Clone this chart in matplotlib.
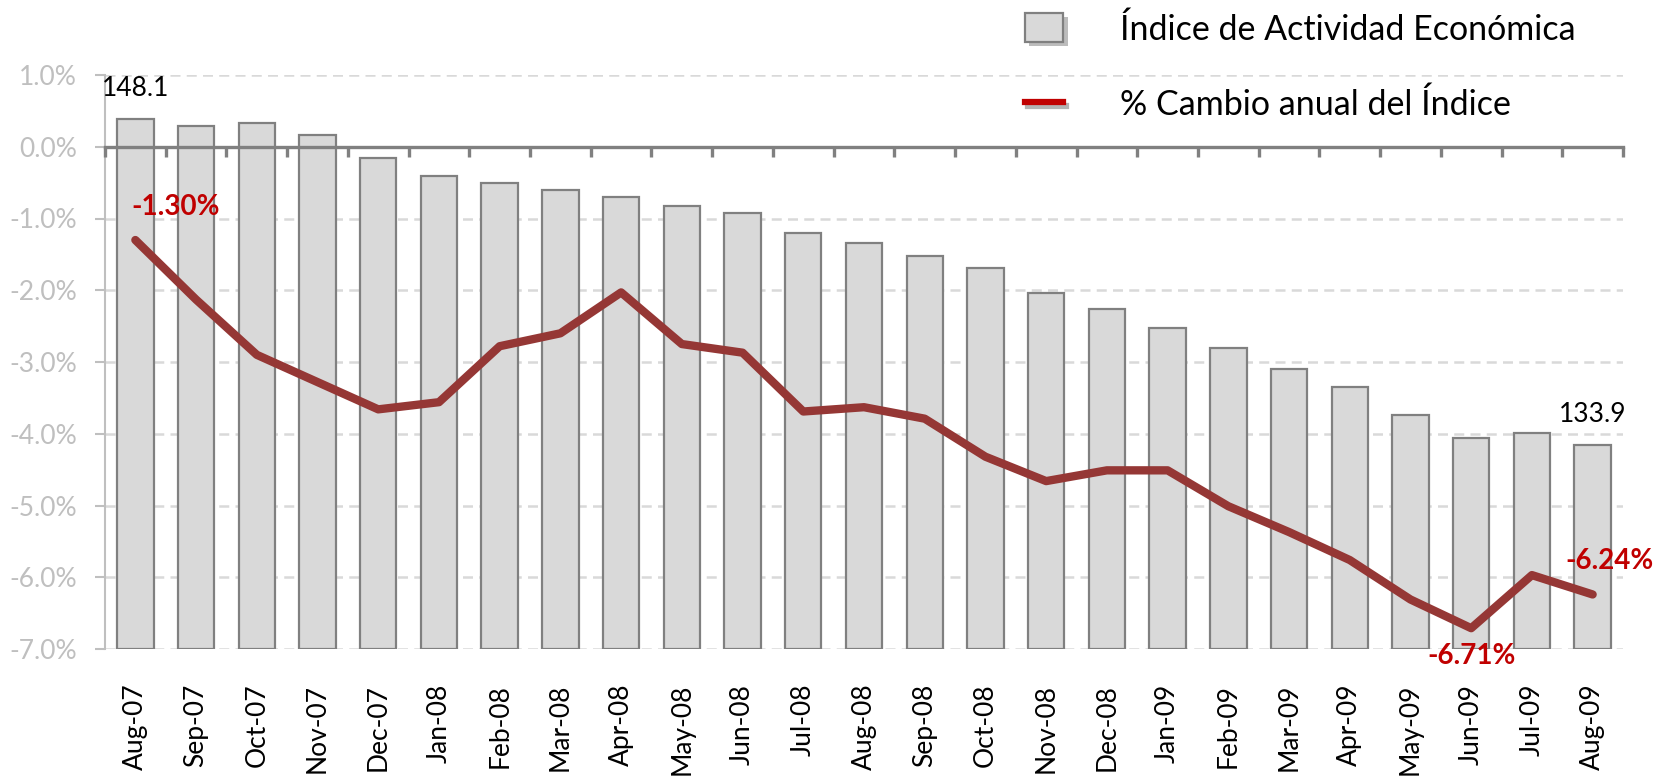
import numpy as np
import matplotlib
matplotlib.use("Agg")
import matplotlib.pyplot as plt
from matplotlib.patches import Patch
from matplotlib.lines import Line2D
from matplotlib.patheffects import SimplePatchShadow, SimpleLineShadow, Normal
from matplotlib.ticker import FuncFormatter

plt.rcParams['font.family'] = ['Lato', 'DejaVu Sans']

# ===================== 데이터 =====================
months = ['Aug-07', 'Sep-07', 'Oct-07', 'Nov-07', 'Dec-07', 'Jan-08', 'Feb-08',
          'Mar-08', 'Apr-08', 'May-08', 'Jun-08', 'Jul-08', 'Aug-08', 'Sep-08',
          'Oct-08', 'Nov-08', 'Dec-08', 'Jan-09', 'Feb-09', 'Mar-09', 'Apr-09',
          'May-09', 'Jun-09', 'Jul-09', 'Aug-09']

# Índice de Actividad Económica (eje secundario, oculto)
indice = [148.1, 147.8, 147.9, 147.4, 146.4, 145.6, 145.3, 145.0, 144.7, 144.3,
          144.0, 143.1, 142.7, 142.1, 141.6, 140.5, 139.8, 139.0, 138.1, 137.2,
          136.4, 135.2, 134.2, 134.4, 133.9]

# % cambio anual
cambio = [-1.30, -2.13, -2.90, -3.28, -3.66, -3.56, -2.78, -2.60, -2.03, -2.75,
          -2.87, -3.69, -3.63, -3.79, -4.32, -4.66, -4.51, -4.51, -5.01, -5.37,
          -5.76, -6.31, -6.71, -5.97, -6.24]

pct_ticks = [1, 0, -1, -2, -3, -4, -5, -6, -7]
idx_range = (125, 150)

# ===================== 스타일 =====================
BAR_FILL = '#D9D9D9'
BAR_EDGE = '#808080'
LINE_COLOR = '#953735'
LABEL_RED = '#C00000'
GRID_COLOR = '#D9D9D9'
TICK_GRAY = '#BFBFBF'

W, H = 1656, 778
fig = plt.figure(figsize=(W / 100, H / 100), dpi=100)
ax = fig.add_axes([105 / W, 1 - 649 / H, (1623 - 105) / W, (649 - 75) / H])

x = np.arange(len(months))

# ----- 뒤쪽 축: 격자, y 눈금, x 라벨 -----
ax.set_xlim(-0.5, len(months) - 0.5)
ax.set_ylim(-7, 1)
ax.set_yticks(pct_ticks)
ax.yaxis.set_major_formatter(FuncFormatter(lambda v, p: f'{v:.1f}%'))
ax.yaxis.grid(True, color=GRID_COLOR, linestyle=(0, (4, 2.5)), linewidth=1.8)
ax.set_axisbelow(True)
ax.tick_params(axis='y', colors=TICK_GRAY, labelsize=19, length=7, width=1.5, pad=13)
ax.set_xticks(x)
ax.set_xticks(np.arange(-0.5, len(months), 1), minor=True)
ax.set_xticklabels(months, rotation=90, fontsize=19)
ax.tick_params(axis='x', which='both', length=0, pad=25, labelcolor='black')
for s in ['top', 'right', 'bottom']:
    ax.spines[s].set_visible(False)
ax.spines['left'].set_color(TICK_GRAY)
ax.spines['left'].set_linewidth(1.5)

# ----- 막대 (보조축) -----
axb = ax.twinx()
axb.set_ylim(*idx_range)
heights = [v - idx_range[0] for v in indice]
axb.bar(x, heights, bottom=idx_range[0], width=0.6, color=BAR_FILL,
        edgecolor=BAR_EDGE, linewidth=1.6)
axb.yaxis.set_visible(False)
for s in axb.spines.values():
    s.set_visible(False)
axb.annotate(f'{indice[0]:.1f}', (x[0], indice[0]), xytext=(0, 22),
             textcoords='offset points', ha='center', va='center', fontsize=19)
axb.annotate(f'{indice[-1]:.1f}', (x[-1], indice[-1]), xytext=(0, 22),
             textcoords='offset points', ha='center', va='center', fontsize=19)

# ----- 선 + 0 축 -----
axl = ax.twinx()
axl.set_ylim(-7, 1)
axl.yaxis.set_visible(False)
for s in ['top', 'left', 'right']:
    axl.spines[s].set_visible(False)
axl.xaxis.set_visible(True)
axl.spines['bottom'].set_position(('data', 0))
axl.spines['bottom'].set_color(BAR_EDGE)
axl.spines['bottom'].set_linewidth(2.4)
axl.tick_params(axis='x', which='major', length=0, labelbottom=False)
axl.tick_params(axis='x', which='minor', length=7, width=2.4, color=BAR_EDGE,
                direction='out', labelbottom=False)

axl.plot(x, cambio, color=LINE_COLOR, linewidth=6, solid_capstyle='round',
         solid_joinstyle='round')

lab_kw = dict(textcoords='offset points', ha='center', va='center',
              fontsize=20, fontweight='bold', color=LABEL_RED)
axl.annotate(f'{cambio[0]:.2f}%', (x[0], cambio[0]), xytext=(29, 24), **lab_kw)
i_min = int(np.argmin(cambio))
axl.annotate(f'{cambio[i_min]:.2f}%', (x[i_min], cambio[i_min]), xytext=(0, -20), **lab_kw)
axl.annotate(f'{cambio[-1]:.2f}%', (x[-1], cambio[-1]), xytext=(12, 24), **lab_kw)

# ----- 범례 -----
handles = [
    Patch(facecolor=BAR_FILL, edgecolor=BAR_EDGE, linewidth=1.6,
          path_effects=[SimplePatchShadow(offset=(3, -3), alpha=0.35), Normal()]),
    Line2D([], [], color=LABEL_RED, linewidth=4.5,
           path_effects=[SimpleLineShadow(offset=(2, -3), alpha=0.3), Normal()]),
]
fig.legend(handles, ['Índice de Actividad Económica', '% Cambio anual del Índice'],
           loc='upper left', bbox_to_anchor=(1025 / W, 1 - 13 / H), frameon=False,
           fontsize=24.5, handlelength=1.13, handleheight=0.93, handletextpad=1.65,
           labelspacing=1.27, borderpad=0, borderaxespad=0)

fig.savefig('out.png', dpi=100)
